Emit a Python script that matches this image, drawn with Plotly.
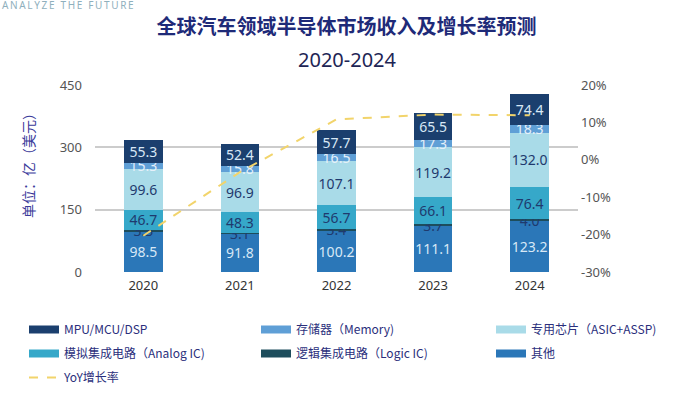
import plotly.graph_objects as go

# ---------------- data ----------------
years = ["2020", "2021", "2022", "2023", "2024"]
other = [98.5, 91.8, 100.2, 111.1, 123.2]      # 其他
logic = [3.3, 3.1, 3.4, 3.7, 4.0]              # 逻辑集成电路
analog = [46.7, 48.3, 56.7, 66.1, 76.4]        # 模拟集成电路
asic = [99.6, 96.9, 107.1, 119.2, 132.0]       # 专用芯片
memory = [15.3, 15.8, 16.5, 17.3, 18.3]        # 存储器
mpu = [55.3, 52.4, 57.7, 65.5, 74.4]           # MPU/MCU/DSP
yoy = [-20.3, -3.3, 10.8, 12.1, 11.9]          # YoY增长率 (%)

left_ticks = [0, 150, 300, 450]
right_ticks = [-30, -20, -10, 0, 10, 20]
right_labels = [f"{v}%" for v in right_ticks]

# ---------------- styles ----------------
FONT = "Noto Sans, Noto Sans CJK SC, sans-serif"
CJK = "Noto Sans CJK SC, Noto Sans, sans-serif"
NAVY_TXT = "#1f3a6e"
LIGHT_TXT = "#d8e8f6"

# name, values, bar colour, label colour, legend, legend rank
series = [
    ("其他", other, "#2b77b8", LIGHT_TXT, "legend3", 2),
    ("逻辑集成电路（Logic IC)", logic, "#1d4d5c", NAVY_TXT, "legend2", 2),
    ("模拟集成电路（Analog IC)", analog, "#36a8c9", NAVY_TXT, "legend", 2),
    ("专用芯片（ASIC+ASSP)", asic, "#a9dbe8", NAVY_TXT, "legend3", 1),
    ("存储器（Memory)", memory, "#5f9fd6", "#e6f0fa", "legend2", 1),
    ("MPU/MCU/DSP", mpu, "#1b3f6e", LIGHT_TXT, "legend", 1),
]

fig = go.Figure()

for name, vals, col, tcol, _, _ in series:
    fig.add_trace(go.Bar(
        x=years, y=vals, name=name, marker=dict(color=col, line=dict(width=0)),
        text=vals, texttemplate="%{y:.1f}", textposition="inside",
        insidetextanchor="middle", textangle=0,
        textfont=dict(size=14, color=tcol, family=FONT),
        showlegend=False, hoverinfo="skip",
    ))

# legend entries drawn as wide swatches
for name, _, col, _, lg, rank in series:
    fig.add_trace(go.Scatter(
        x=[None], y=[None], mode="lines", name=name,
        line=dict(color=col, width=8), legend=lg, legendrank=rank,
        legendgroup=name, hoverinfo="skip",
    ))

fig.add_trace(go.Scatter(
    x=years, y=yoy, yaxis="y2", mode="lines", name="YoY增长率",
    line=dict(color="#f2d46b", width=2, dash="dash"),
    legend="legend", legendrank=3, legendgroup="yoy", hoverinfo="skip",
))

plot_l, plot_r, plot_t, plot_b = 95, 115, 85, 126
W, H = 693, 398
pw = W - plot_l - plot_r
ph = H - plot_t - plot_b


def px_x(x):
    return (x - plot_l) / pw


def px_y(y):
    return (H - plot_b - y) / ph


def legend_at(xpx):
    return dict(
        orientation="v", traceorder="grouped", tracegroupgap=5,
        bgcolor="rgba(0,0,0,0)", font=dict(family=CJK, size=12, color="#2b2f7c"),
        xanchor="left", yanchor="top", x=px_x(xpx), y=px_y(315),
        itemclick=False, itemdoubleclick=False,
    )


fig.update_layout(
    width=W, height=H,
    margin=dict(l=plot_l, r=plot_r, t=plot_t, b=plot_b, autoexpand=False),
    paper_bgcolor="white", plot_bgcolor="white",
    barmode="stack", bargap=0.6,
    uniformtext=dict(minsize=14, mode="show"),
    font=dict(family=FONT, color="#555555"),
    title=dict(
        text="<b>全球汽车领域半导体市场收入及增长率预测</b>",
        x=0.5, xref="container", xanchor="center",
        y=1 - 27 / H, yref="container", yanchor="middle",
        font=dict(family=CJK, size=20, color="#1e2a78"),
    ),
    xaxis=dict(
        showgrid=False, showline=False, zeroline=False,
        tickfont=dict(family=FONT, size=13, color="#333333"),
        ticklabelstandoff=4, automargin=False,
    ),
    yaxis=dict(
        range=[0, 450], tickvals=left_ticks, showgrid=True,
        gridcolor="#cccccc", gridwidth=1.5, zeroline=False, showline=False,
        tickfont=dict(family=FONT, size=13, color="#555555"),
        ticklabelstandoff=12, automargin=False,
    ),
    yaxis2=dict(
        range=[-30, 20], tickmode="array", tickvals=right_ticks,
        ticktext=right_labels,
        overlaying="y", side="right", showgrid=False, zeroline=False,
        showline=False,
        tickfont=dict(family=FONT, size=13, color="#555555"),
        ticklabelstandoff=2, automargin=False,
    ),
    legend=legend_at(24),
    legend2=legend_at(256),
    legend3=legend_at(491),
    annotations=[
        dict(text="2020-2024", xref="paper", yref="paper",
             x=px_x(347), y=px_y(60), xanchor="center", yanchor="middle",
             showarrow=False, font=dict(family=FONT, size=20, color="#1e2555")),
        dict(text="单位：亿（美元）", xref="paper", yref="paper",
             x=px_x(28), y=px_y(162), xanchor="center", yanchor="middle",
             textangle=-90, showarrow=False,
             font=dict(family=CJK, size=14, color="#3b3b9a")),
        dict(text="\u2009".join("ANALYZE THE FUTURE"), xref="paper", yref="paper",
             x=px_x(0), y=px_y(5), xanchor="left", yanchor="middle",
             showarrow=False,
             font=dict(family=FONT, size=10, color="#8fb0bd")),
    ],
)

fig.write_html("out.html", config={"displayModeBar": False},
               post_script="document.body.style.margin='0px';")
